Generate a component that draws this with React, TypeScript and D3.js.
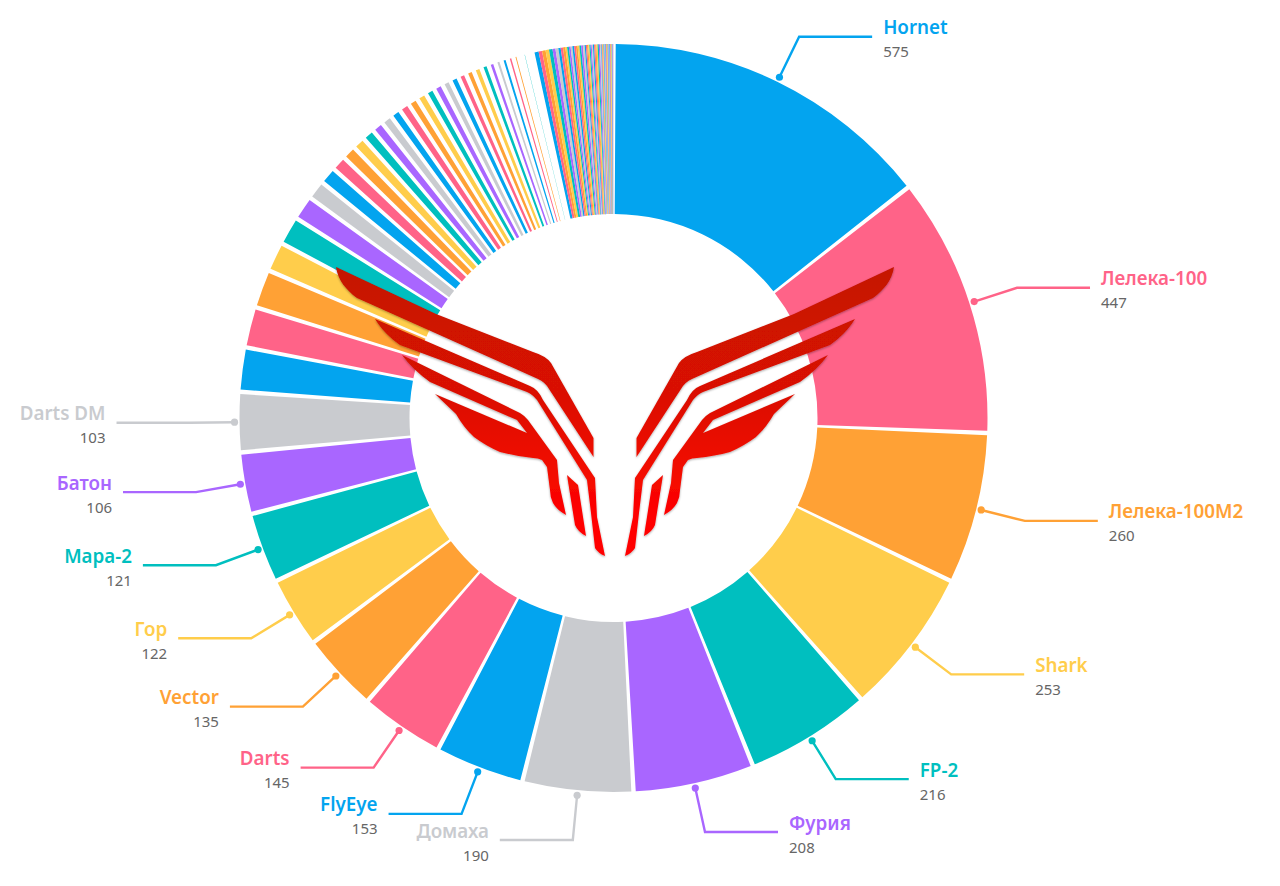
import { useEffect, useRef } from 'react';
import * as d3 from 'd3';

const categories = ['Hornet', 'Лелека-100', 'Лелека-100М2', 'Shark', 'FP-2', 'Фурия', 'Домаха', 'FlyEye', 'Darts', 'Vector', 'Гор', 'Мара-2', 'Батон', 'Darts DM'];
const namedValues = [575, 447, 260, 253, 216, 208, 190, 153, 145, 135, 122, 121, 106, 103];
// unlabelled slices after Darts DM, read from the stripe widths
const stripeValues = [
    76, 70, 66, 51, 49, 42, 33,
    30, 26, 24, 22, 21, 20, 19,
    18, 18, 17, 17, 16, 16, 15,
    15, 14, 14, 14, 13, 12, 11,
    11, 10, 9, 7, 8, 7, 6,
];
// smallest slices at the top, these touch each other
const tailValues = [
    7, 6, 6, 6, 6, 5, 5,
    4, 4, 4, 3, 3, 3, 3,
    3, 3, 3, 3, 3, 3, 3,
    2, 2, 2, 2, 2, 2, 2,
    2, 2, 2, 2, 2, 2, 2,
    1, 1, 1, 1, 1, 1, 1,
    1, 1, 1, 1, 1, 1, 1,
    1, 1, 1, 1, 1, 1, 1,
];
const palette = ['#03A4EF', '#FF6388', '#FFA135', '#FFCD4B', '#00BFBF', '#A966FF', '#C9CBCF'];

// one wing of the logo, the other side is mirrored
const wingPaths = [
    'M336,267 L436,314 L533,352 Q546,356 551,363 L593.5,438 L593.5,457 L549,389 Q545,382 538,379 L357,298 C346,290 338,280 336,267 Z',
    'M375,319 L530,386 Q538,389 543,400 L595,478 L597,517 L605,556 Q598,553 595,548 L591,513 L587,480 L537,400 Q532,394 527,392 L400,345 C390,338 382,330 375,319 Z',
    'M402,355 L520,413 Q525,416 528,420 L557,460 L559,483 L566,515 Q557,510 553,503 Q550,497 550,490 L547,467 L542,460 Q538,458 533,458 Q515,456 500,452 Q486,446 474,437 Q464,428 456,414 L435,394 L527,433 L517,420 L430,382 Q413,370 402,355 Z',
    'M567,475 L578,485 L586,536 Q578,532 575,525 Z',
];

const cx = 613.5;
const cy = 418;
const innerRadius = 204;
const outerRadius = 374;
const padAngle = (0.68 * Math.PI) / 180;

export default function App() {
    const svgRef = useRef<SVGSVGElement>(null);
    const width = 1280;
    const height = 886;

    useEffect(() => {
        if (!svgRef.current) return;

        const svg = d3.select(svgRef.current);
        svg.selectAll('*').remove();

        const defs = svg.append('defs');
        const grad = defs.append('linearGradient')
            .attr('id', 'wing')
            .attr('gradientUnits', 'userSpaceOnUse')
            .attr('x1', 0).attr('y1', 265)
            .attr('x2', 0).attr('y2', 520);
        grad.append('stop').attr('offset', '0%').attr('stop-color', '#C41300');
        grad.append('stop').attr('offset', '50%').attr('stop-color', '#DA1100');
        grad.append('stop').attr('offset', '75%').attr('stop-color', '#EE0E00');
        grad.append('stop').attr('offset', '100%').attr('stop-color', '#FF0000');
        defs.append('filter')
            .attr('id', 'wingShadow')
            .attr('x', '-10%').attr('y', '-10%')
            .attr('width', '120%').attr('height', '120%')
            .append('feDropShadow')
            .attr('dx', 0).attr('dy', 1)
            .attr('stdDeviation', 1.2)
            .attr('flood-color', '#000')
            .attr('flood-opacity', 0.35);

        const g = svg.append('g').attr('transform', `translate(${cx},${cy})`);

        const values = [...namedValues, ...stripeValues, ...tailValues];
        const tailStart = namedValues.length + stripeValues.length;

        const pie = d3.pie<number>().value(d => d).sort(null);
        const slices = pie(values);

        const arc = d3.arc<d3.PieArcDatum<number>>()
            .innerRadius(innerRadius)
            .outerRadius(outerRadius);

        g.selectAll('path.slice')
            .data(slices)
            .enter().append('path')
            .attr('class', 'slice')
            .attr('fill', (_d, i) => palette[i % palette.length])
            .attr('d', (d, i) => {
                const pad = i < tailStart ? padAngle / 2 : 0;
                const start = d.startAngle + pad;
                // stripes thinner than the gap disappear
                const end = Math.max(start, d.endAngle - pad);
                return arc({ ...d, startAngle: start, endAngle: end, padAngle: 0 });
            });

        // Labels with leader lines
        categories.forEach((name, i) => {
            const d = slices[i];
            const color = palette[i % palette.length];
            const mid = (d.startAngle + d.endAngle) / 2;
            const right = mid < Math.PI;
            const dir = right ? 1 : -1;
            const dot = d3.pointRadial(mid, outerRadius + 5);
            const elbow = d3.pointRadial(mid, outerRadius + 50);
            const endX = elbow[0] + dir * 73;
            const textX = endX + dir * 11;
            const y = elbow[1];

            g.append('path')
                .attr('d', d3.line()([dot, elbow, [endX, y]]))
                .attr('fill', 'none')
                .attr('stroke', color)
                .attr('stroke-width', 2.4);
            g.append('circle')
                .attr('cx', dot[0])
                .attr('cy', dot[1])
                .attr('r', 3.6)
                .attr('fill', color);
            g.append('text')
                .attr('x', textX)
                .attr('y', y - 2.5)
                .attr('text-anchor', right ? 'start' : 'end')
                .attr('font-size', 18.8)
                .attr('font-weight', 600)
                .attr('fill', color)
                .text(name);
            g.append('text')
                .attr('x', textX)
                .attr('y', y + 20.5)
                .attr('text-anchor', right ? 'start' : 'end')
                .attr('font-size', 15)
                .attr('fill', '#666666')
                .text(namedValues[i]);
        });

        // Logo
        const logo = svg.append('g').attr('filter', 'url(#wingShadow)');
        const drawWing = (transform: string) => {
            logo.append('g')
                .attr('transform', transform)
                .selectAll('path')
                .data(wingPaths)
                .enter().append('path')
                .attr('d', d => d)
                .attr('fill', 'url(#wing)');
        };
        drawWing('');
        drawWing('translate(1230,0) scale(-1,1)');
    }, []);

    return (
        <svg
            ref={svgRef}
            width={width}
            height={height}
            style={{ position: 'absolute', left: 0, top: 0, background: '#fff', fontFamily: '"Noto Sans", "Open Sans", sans-serif' }}
        />
    );
}
